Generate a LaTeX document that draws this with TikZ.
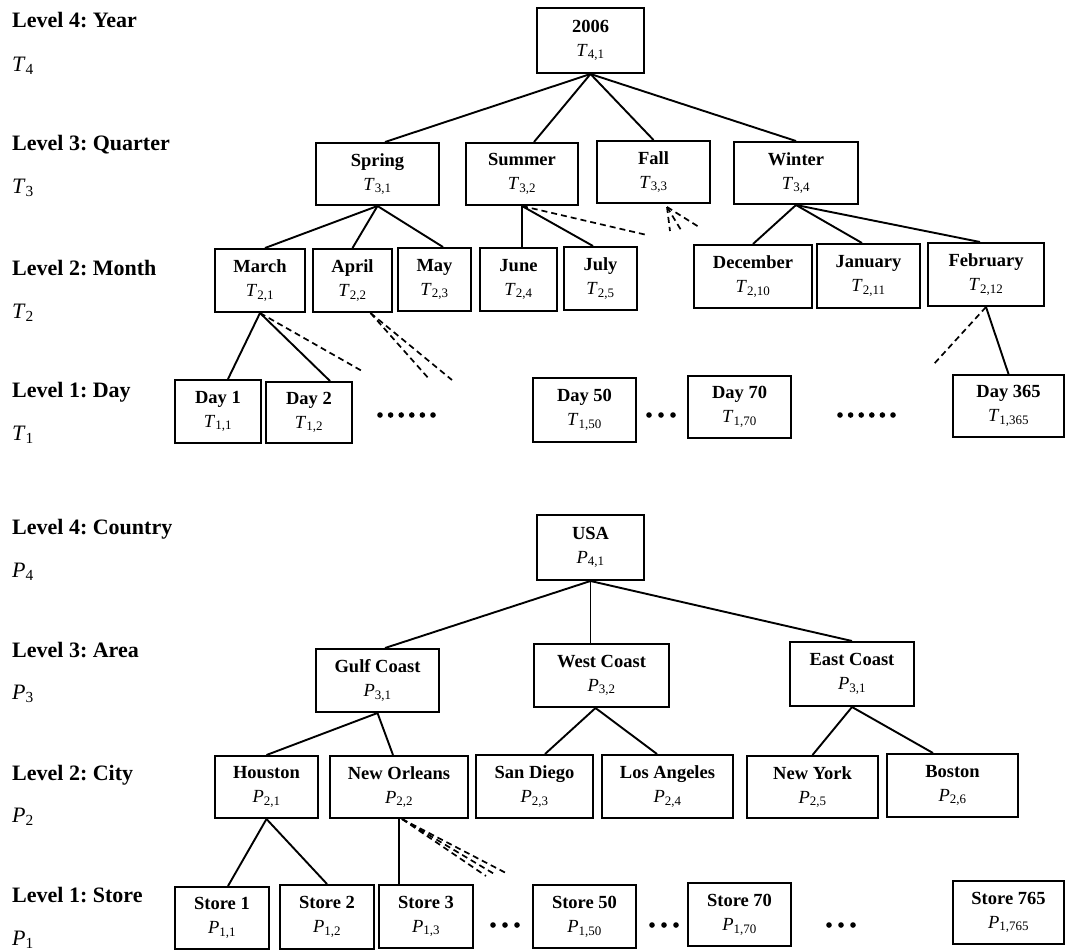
\documentclass[tikz,border=0pt]{standalone}
\usepackage{fontspec}
\setmainfont{Liberation Serif}
\frenchspacing
\newcommand{\cell}[3]{\textbf{#1}\\\textit{#2}\textsubscript{#3}}
\begin{document}
\begin{tikzpicture}
  [x=1pt,y=-1pt,
   box/.style 2 args={draw,line width=2pt,minimum width=#1,minimum height=#2,
     inner sep=0pt,align=center,font=\fontsize{18.5}{24}\selectfont},
   edge/.style={line width=1.9pt},
   dashedge/.style={line width=1.7pt,dash pattern=on 6pt off 4pt},
   lvl/.style={anchor=base west,inner sep=0pt,font=\fontsize{22}{26}\selectfont}]
  \useasboundingbox (0,0) rectangle (1067,951);

  % level labels
  \node[lvl] (lyear) at (12,27) {\textbf{Level 4: Year}};
  \node[lvl] (tyear) at (12,71) {\textit{T}\textsubscript{4}};
  \node[lvl] (lquarter) at (12,150) {\textbf{Level 3: Quarter}};
  \node[lvl] (tquarter) at (12,193) {\textit{T}\textsubscript{3}};
  \node[lvl] (lmonth) at (12,275) {\textbf{Level 2: Month}};
  \node[lvl] (tmonth) at (12,318) {\textit{T}\textsubscript{2}};
  \node[lvl] (lday) at (12,397) {\textbf{Level 1: Day}};
  \node[lvl] (tday) at (12,440) {\textit{T}\textsubscript{1}};
  \node[lvl] (lcountry) at (12,534) {\textbf{Level 4: Country}};
  \node[lvl] (pcountry) at (12,577) {\textit{P}\textsubscript{4}};
  \node[lvl] (larea) at (12,657) {\textbf{Level 3: Area}};
  \node[lvl] (parea) at (12,699) {\textit{P}\textsubscript{3}};
  \node[lvl] (lcity) at (12,780) {\textbf{Level 2: City}};
  \node[lvl] (pcity) at (12,822) {\textit{P}\textsubscript{2}};
  \node[lvl] (lstore) at (12,902) {\textbf{Level 1: Store}};
  \node[lvl] (pstore) at (12,945) {\textit{P}\textsubscript{1}};

  % time hierarchy
  \node[box={107}{65}] (year) at (590.5,40.5) {\cell{2006}{T}{4,1}};
  \node[box={123}{62}] (spring) at (377.5,174) {\cell{Spring}{T}{3,1}};
  \node[box={112}{62}] (summer) at (522,174) {\cell{Summer}{T}{3,2}};
  \node[box={113}{62}] (fall) at (653.5,172) {\cell{Fall}{T}{3,3}};
  \node[box={124}{62}] (winter) at (796,173) {\cell{Winter}{T}{3,4}};
  \node[box={90}{63}] (march) at (260,280.5) {\cell{March}{T}{2,1}};
  \node[box={79}{63}] (april) at (352.5,280.5) {\cell{April}{T}{2,2}};
  \node[box={73}{63}] (may) at (434.5,279.5) {\cell{May}{T}{2,3}};
  \node[box={77}{63}] (june) at (518.5,279.5) {\cell{June}{T}{2,4}};
  \node[box={73}{63}] (july) at (600.5,278.5) {\cell{July}{T}{2,5}};
  \node[box={118}{63}] (december) at (753,276.5) {\cell{December}{T}{2,10}};
  \node[box={103}{64}] (january) at (868.5,276) {\cell{January}{T}{2,11}};
  \node[box={116}{63}] (february) at (986,274.5) {\cell{February}{T}{2,12}};
  \node[box={86}{63}] (day1) at (218,411.5) {\cell{Day 1}{T}{1,1}};
  \node[box={86}{61}] (day2) at (309,412.5) {\cell{Day 2}{T}{1,2}};
  \node[box={103}{64}] (day50) at (584.5,410) {\cell{Day 50}{T}{1,50}};
  \node[box={103}{62}] (day70) at (739.5,407) {\cell{Day 70}{T}{1,70}};
  \node[box={111}{62}] (day365) at (1008.5,406) {\cell{Day 365}{T}{1,365}};

  \draw[edge] (year.south) -- ([xshift=7.5]spring.north);
  \draw[edge] (year.south) -- ([xshift=12]summer.north);
  \draw[edge] (year.south) -- (fall.north);
  \draw[edge] (year.south) -- (winter.north);
  \draw[edge] (spring.south) -- ([xshift=5]march.north);
  \draw[edge] (spring.south) -- (april.north);
  \draw[edge] (spring.south) -- ([xshift=8.5]may.north);
  \draw[edge] (summer.south) -- (summer.south |- june.north);
  \draw[edge] (summer.south) -- ([xshift=-7.5]july.north);
  \draw[edge] (winter.south) -- (december.north);
  \draw[edge] (winter.south) -- ([xshift=-6.5]january.north);
  \draw[edge] (winter.south) -- ([xshift=-6]february.north);
  \draw[edge] (march.south) -- ([xshift=10]day1.north);
  \draw[edge] (march.south) -- ([xshift=21]day2.north);
  \draw[edge] (february.south) -- (day365.north);

  % dashed (omitted) children
  \coordinate (sumend) at (647,235);
  \coordinate (fallend1) at (670,231);
  \coordinate (fallend2) at (681,230);
  \coordinate (fallend3) at (699,227);
  \coordinate (marend) at (362,371);
  \coordinate (aprend1) at (430,380);
  \coordinate (aprend2) at (452,380);
  \coordinate (febend) at (933,365);
  \draw[dashedge] (summer.south) -- (sumend);
  \foreach \e in {fallend1,fallend2,fallend3}
    \draw[dashedge] ([xshift=13.5,yshift=-3]fall.south) -- (\e);
  \draw[dashedge] (march.south) -- (marend);
  \draw[dashedge] ([xshift=18]april.south) -- (aprend1);
  \draw[dashedge] ([xshift=18]april.south) -- (aprend2);
  \draw[dashedge] (february.south) -- (febend);

  \foreach \i in {0,...,5} {
    \fill (380+\i*10.6,415) circle (2.8pt);
    \fill (840+\i*10.6,415) circle (2.8pt);
  }
  \foreach \i in {0,1,2}
    \fill (649+\i*12,415) circle (2.8pt);

  % location hierarchy
  \node[box={107}{65}] (usa) at (590.5,547.5) {\cell{USA}{P}{4,1}};
  \node[box={123}{63}] (gulf) at (377.5,680.5) {\cell{Gulf Coast}{P}{3,1}};
  \node[box={135}{63}] (west) at (601.5,675.5) {\cell{West Coast}{P}{3,2}};
  \node[box={124}{64}] (east) at (852,674) {\cell{East Coast}{P}{3,1}};
  \node[box={103}{62}] (houston) at (266.5,787) {\cell{Houston}{P}{2,1}};
  \node[box={138}{62}] (orleans) at (399,787) {\cell{New Orleans}{P}{2,2}};
  \node[box={117}{63}] (sandiego) at (534.5,786.5) {\cell{San Diego}{P}{2,3}};
  \node[box={131}{63}] (losangeles) at (667.5,786.5) {\cell{Los Angeles}{P}{2,4}};
  \node[box={131}{62}] (newyork) at (812.5,787) {\cell{New York}{P}{2,5}};
  \node[box={131}{63}] (boston) at (952.5,785.5) {\cell{Boston}{P}{2,6}};
  \node[box={94}{62}] (store1) at (222,918) {\cell{Store 1}{P}{1,1}};
  \node[box={94}{64}] (store2) at (327,917) {\cell{Store 2}{P}{1,2}};
  \node[box={94}{63}] (store3) at (426,916.5) {\cell{Store 3}{P}{1,3}};
  \node[box={103}{63}] (store50) at (584.5,916.5) {\cell{Store 50}{P}{1,50}};
  \node[box={103}{63}] (store70) at (739.5,914.5) {\cell{Store 70}{P}{1,70}};
  \node[box={111}{63}] (store765) at (1008.5,912.5) {\cell{Store 765}{P}{1,765}};

  \draw[edge] (usa.south) -- ([xshift=7.5]gulf.north);
  \draw[edge] (usa.south) -- (usa.south |- west.north);
  \draw[edge] (usa.south) -- (east.north);
  \draw[edge] (gulf.south) -- (houston.north);
  \draw[edge] (gulf.south) -- ([xshift=-6]orleans.north);
  \draw[edge] ([xshift=-6]west.south) -- ([xshift=10.5]sandiego.north);
  \draw[edge] ([xshift=-6]west.south) -- ([xshift=-10.5]losangeles.north);
  \draw[edge] (east.south) -- (newyork.north);
  \draw[edge] (east.south) -- ([xshift=-19.5]boston.north);
  \draw[edge] (houston.south) -- ([xshift=6]store1.north);
  \draw[edge] (houston.south) -- (store2.north);
  \draw[edge] (orleans.south) -- (orleans.south |- store3.north);

  \coordinate (orlend1) at (506,873);
  \coordinate (orlend2) at (496,875);
  \coordinate (orlend3) at (486,876);
  \foreach \e in {orlend1,orlend2,orlend3}
    \draw[dashedge] ([xshift=3]orleans.south) -- (\e);

  \foreach \x in {493,652,829}
    \foreach \i in {0,1,2}
      \fill (\x+\i*12,925) circle (2.8pt);
\end{tikzpicture}
\end{document}
